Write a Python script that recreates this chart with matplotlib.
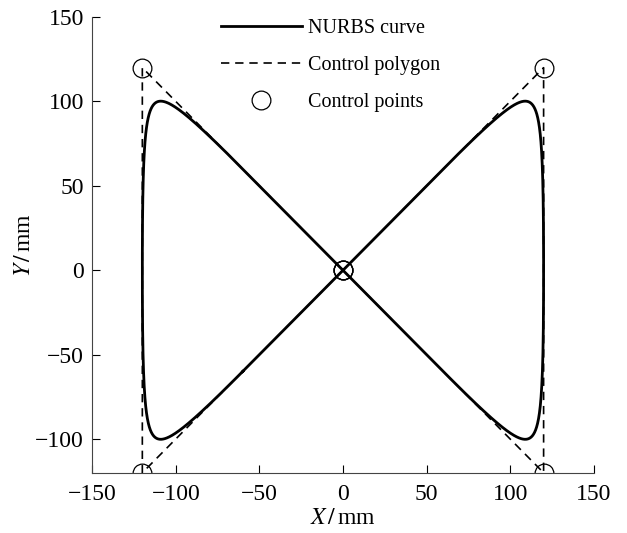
import numpy as np
import matplotlib
matplotlib.use("Agg")
import matplotlib.pyplot as plt

plt.rcParams['font.family'] = ['Liberation Serif', 'DejaVu Serif']
plt.rcParams['mathtext.fontset'] = 'stix'

# control points of the closed figure-eight NURBS curve (polygon order)
ctrl_x = [0, 120, 120, 0, -120, -120, 0]
ctrl_y = [0, 120, -120, 0, 120, -120, 0]
weights = [1, 3.2, 3.2, 1, 3.2, 3.2, 1]


def closed_nurbs(px, py, w, n=400):
    # periodic uniform rational quadratic B-spline, one segment per vertex
    P = np.column_stack([px[:-1], py[:-1]]).astype(float)
    W = np.asarray(w[:-1], float)
    k = len(P)
    t = np.linspace(0, 1, n)[:, None]
    out = []
    for i in range(k):
        a = (P[i - 1] + P[i]) / 2
        b = P[i]
        c = (P[i] + P[(i + 1) % k]) / 2
        b0, b1, b2 = (1 - t) ** 2, 2 * t * (1 - t) * W[i], t ** 2
        out.append((b0 * a + b1 * b + b2 * c) / (b0 + b1 + b2))
    pts = np.vstack(out + [out[0][:1]])
    return pts[:, 0], pts[:, 1]


cx, cy = closed_nurbs(ctrl_x, ctrl_y, weights)

fig = plt.figure(figsize=(6.27, 5.33), dpi=100)
ax = fig.add_axes([0.147, 0.113, 0.80, 0.855])

ax.plot(cx, cy, color='black', lw=2.0, label='NURBS curve')
ax.plot(ctrl_x, ctrl_y, color='black', lw=1.2, ls=(0, (5, 3.5)), label='Control polygon')
ax.plot(ctrl_x, ctrl_y, ls='none', marker='o', ms=13.5, mfc='none', mec='black',
        mew=0.9, label='Control points')

ax.set_xlim(-150, 150)
ax.set_ylim(-120, 150)
ax.set_xticks([-150, -100, -50, 0, 50, 100, 150])
ax.set_yticks([-100, -50, 0, 50, 100, 150])
for s in ['top', 'right']:
    ax.spines[s].set_visible(False)
for s in ['left', 'bottom']:
    ax.spines[s].set_color('#444444')
ax.tick_params(direction='in', length=6, width=0.8, labelsize=17, colors='black', pad=8)
ax.tick_params(axis='y', pad=6)
ax.set_xlabel(r'$X\,/\,$mm', fontsize=17, labelpad=2)
ax.set_ylabel(r'$Y\,/\,$mm', fontsize=17, labelpad=0)

ax.legend(loc='upper center', frameon=False, fontsize=14.5, handlelength=4.0,
          handletextpad=0.3, bbox_to_anchor=(0.475, 1.035), labelspacing=0.88)

fig.savefig('out.png', dpi=100)
